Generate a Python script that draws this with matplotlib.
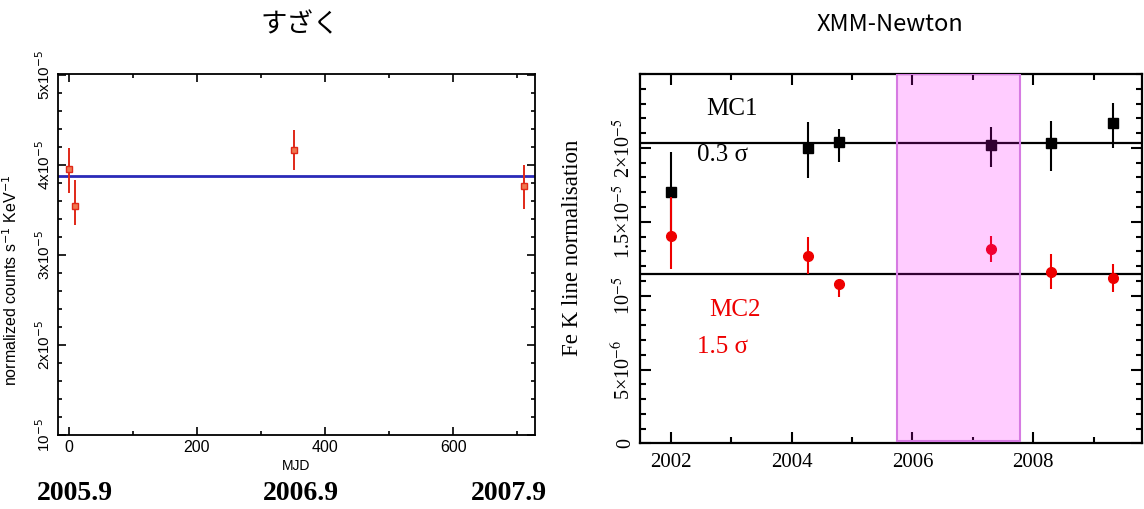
import numpy as np
import matplotlib
matplotlib.use("Agg")
import matplotlib.pyplot as plt
from matplotlib.patches import Rectangle
from matplotlib.ticker import MultipleLocator, FixedLocator

plt.rcParams['font.family'] = ['Liberation Sans', 'DejaVu Sans']
plt.rcParams['font.serif'] = ['Liberation Serif']

# Suzaku (left panel)
suz_mjd = [0, 9, 351, 711]
suz_norm = [3.956e-5, 3.548e-5, 4.163e-5, 3.77e-5]
suz_err_lo = [0.266e-5, 0.218e-5, 0.223e-5, 0.26e-5]
suz_err_hi = [0.234e-5, 0.28e-5, 0.227e-5, 0.23e-5]
suz_const = 3.874e-5
suz_yticks = [1e-5, 2e-5, 3e-5, 4e-5, 5e-5]
suz_ylabels = ['10$^{-5}$', '2x10$^{-5}$', '3x10$^{-5}$', '4x10$^{-5}$', '5x10$^{-5}$']
year_marks = ['2005.9', '2006.9', '2007.9']

# XMM-Newton (right panel)
xmm_year = [2002.0, 2004.27, 2004.78, 2007.30, 2008.30, 2009.32]
mc1_norm = [17.0e-6, 20.0e-6, 20.38e-6, 20.22e-6, 20.31e-6, 21.71e-6]
mc1_err_lo = [2.7e-6, 2.07e-6, 1.35e-6, 1.53e-6, 1.89e-6, 1.71e-6]
mc1_err_hi = [2.7e-6, 1.78e-6, 0.9e-6, 1.22e-6, 1.53e-6, 1.33e-6]
mc2_norm = [14.05e-6, 12.68e-6, 10.76e-6, 13.15e-6, 11.6e-6, 11.19e-6]
mc2_err_lo = [2.23e-6, 1.2e-6, 0.86e-6, 0.9e-6, 1.15e-6, 0.97e-6]
mc2_err_hi = [2.61e-6, 1.28e-6, 0.3e-6, 0.88e-6, 1.19e-6, 0.97e-6]
mc1_const = 20.34e-6
mc2_const = 11.44e-6
suzaku_span = (2005.74, 2007.78)
xmm_yticks = [0, 5e-6, 1e-5, 1.5e-5, 2e-5]
xmm_ylabels = ['0', '5×10$^{-6}$', '10$^{-5}$', '1.5×10$^{-5}$', '2×10$^{-5}$']

fig = plt.figure(figsize=(11.44, 5.09), dpi=100)

# ---- left: Suzaku
ax1 = fig.add_axes([0.0507, 0.1454, 0.417, 0.7092])
ax1.errorbar(suz_mjd, suz_norm, yerr=[suz_err_lo, suz_err_hi], fmt='s', ms=4.5,
             mfc='#f07850', mec='#e02818', ecolor='#e02818', elinewidth=1.4, capsize=0, zorder=3)
ax1.axhline(suz_const, color='#2a2ab8', lw=2, zorder=2)
ax1.set_xlim(-17, 728)
ax1.set_ylim(1e-5, 5.01e-5)
ax1.xaxis.set_major_locator(MultipleLocator(200))
ax1.xaxis.set_minor_locator(MultipleLocator(100))
ax1.yaxis.set_major_locator(FixedLocator(suz_yticks))
ax1.yaxis.set_minor_locator(MultipleLocator(2e-6))
ax1.set_yticklabels(suz_ylabels, rotation=90, va='center', fontsize=11)
ax1.tick_params(axis='x', labelsize=11.5)
ax1.tick_params(which='both', direction='in', top=True, right=True, width=1.2)
ax1.tick_params(which='major', length=6)
ax1.tick_params(which='minor', length=3)
for s in ax1.spines.values():
    s.set_linewidth(1.3)
ax1.set_xlabel('MJD', fontsize=10, labelpad=3)
ax1.set_ylabel('normalized counts s$^{-1}$ KeV$^{-1}$', fontsize=11.5)
ax1.yaxis.set_label_coords(-0.08, 0.43)

for lab, xp in zip(year_marks, [75, 301, 509]):
    fig.text(xp / 1144, 0.031, lab, family='serif', weight='bold', fontsize=20,
             ha='center', va='center')

# ---- right: XMM-Newton
ax2 = fig.add_axes([0.5594, 0.1287, 0.4389, 0.7259])
ax2.errorbar(xmm_year, mc1_norm, yerr=[mc1_err_lo, mc1_err_hi], fmt='s', ms=6.5,
             color='black', elinewidth=1.5, capsize=0, zorder=3)
ax2.errorbar(xmm_year, mc2_norm, yerr=[mc2_err_lo, mc2_err_hi], fmt='o', ms=7,
             color='#ee0000', elinewidth=1.5, capsize=0, zorder=4)
ax2.axhline(mc1_const, color='black', lw=1.6, zorder=2)
ax2.axhline(mc2_const, color='black', lw=1.6, zorder=2)
ax2.add_patch(Rectangle((suzaku_span[0], 0.17e-6), suzaku_span[1] - suzaku_span[0], 25e-6,
                        facecolor=(1, 0, 1, 0.2), edgecolor='none', zorder=5))
ax2.add_patch(Rectangle((suzaku_span[0], 0.17e-6), suzaku_span[1] - suzaku_span[0], 24.8e-6,
                        facecolor='none', edgecolor='#d67be2', lw=1.5, zorder=6))
ax2.set_xlim(2001.49, 2009.8)
ax2.set_ylim(0, 2.5e-5)
ax2.xaxis.set_major_locator(MultipleLocator(2))
ax2.xaxis.set_minor_locator(MultipleLocator(1))
ax2.yaxis.set_major_locator(FixedLocator(xmm_yticks))
ax2.yaxis.set_minor_locator(MultipleLocator(1e-6))
ax2.set_yticklabels(xmm_ylabels, rotation=90, va='center', fontsize=14.5, family='serif')
for t in ax2.get_yticklabels():
    t.set_math_fontfamily('stix')
ax2.set_xticks([2002, 2004, 2006, 2008])
ax2.set_xticklabels(['2002', '2004', '2006', '2008'], fontsize=15, family='serif')
ax2.tick_params(which='both', direction='in', top=True, right=True, width=1.5)
ax2.tick_params(which='major', length=8)
ax2.tick_params(which='minor', length=4)
ax2.tick_params(axis='x', pad=7)
for s in ax2.spines.values():
    s.set_linewidth(1.6)
ax2.set_ylabel('Fe K line normalisation', family='serif', fontsize=16.5)
ax2.yaxis.set_label_coords(-0.113, 0.53)

ax2.text(2003.02, 22.6e-6, 'MC1', family='serif', fontsize=18, ha='center', va='center')
ax2.text(2002.85, 19.5e-6, '0.3 σ', family='serif', fontsize=18, ha='center', va='center')
ax2.text(2003.06, 9.0e-6, 'MC2', family='serif', fontsize=18, color='#ee0000', ha='center', va='center')
ax2.text(2002.86, 6.53e-6, '1.5 σ', family='serif', fontsize=18, color='#ee0000', ha='center', va='center')

# titles
fig.text(300 / 1144, 0.951, 'すざく', family=['Noto Sans CJK JP'], fontsize=19, ha='center', va='center')
fig.text(890 / 1144, 0.951, 'XMM-Newton', family=['Noto Sans CJK JP'], fontsize=17, ha='center', va='center')

fig.savefig('out.png', dpi=100)
